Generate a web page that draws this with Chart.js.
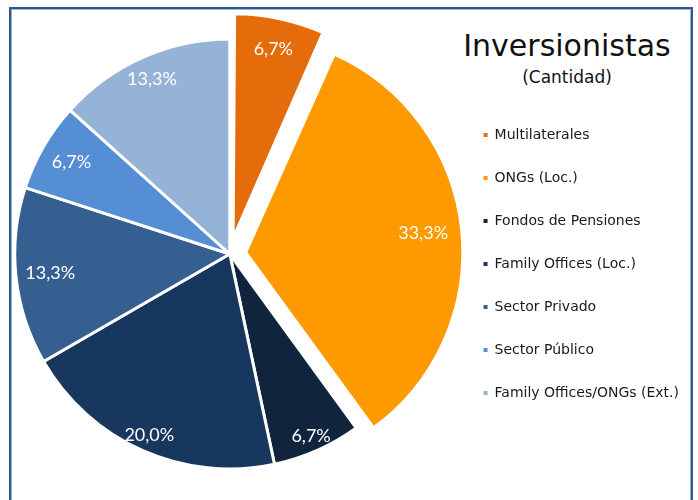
<!DOCTYPE html>
<html>
<head>
<meta charset="utf-8">
<script src="https://cdn.jsdelivr.net/npm/chart.js@4"></script>
<style>
  html, body { margin: 0; padding: 0; background: #fff; overflow: hidden; }
  body { width: 698px; height: 500px; position: relative; }
  #frame {
    position: absolute; left: 9px; top: 7px; width: 680px; height: 520px;
    border: 2px solid #2f5791; box-shadow: inset 0 0 0 1px #9fb4d4;
  }
  #title {
    position: absolute; left: 447px; width: 240px; top: 26px;
    text-align: center; color: #111; font-family: "DejaVu Sans", sans-serif;
  }
  #title .main { font-size: 30px; line-height: 40px; }
  #title .sub { font-size: 17px; line-height: 22px; }
  #pie { position: absolute; left: 5px; top: 8px; }
</style>
</head>
<body>
<div id="frame"></div>
<div id="title"><div class="main">Inversionistas</div><div class="sub">(Cantidad)</div></div>
<canvas id="pie" width="684" height="492"></canvas>
<script>
const categories = [
  "Multilaterales",
  "ONGs (Loc.)",
  "Fondos de Pensiones",
  "Family Offices (Loc.)",
  "Sector Privado",
  "Sector Público",
  "Family Offices/ONGs (Ext.)",
];
const counts = [1, 5, 1, 3, 2, 1, 2];
const exploded = [true, true, false, false, false, false, false];

const sliceColors = ["#e46c0a", "#ff9900", "#10243e", "#18375f", "#365f91", "#558ed5", "#95b3d7"];
// how far out each percent label sits (share of radius), like excel's best fit
const labelDepth = [0.9, 0.83, 0.93, 0.92, 0.84, 0.85, 0.89];

const total = counts.reduce((a, b) => a + b, 0);

const sliceLabels = {
  id: "sliceLabels",
  afterDatasetsDraw(chart) {
    const ctx = chart.ctx;
    const meta = chart.getDatasetMeta(0);
    ctx.save();
    ctx.fillStyle = "#fff";
    ctx.font = "18px Lato, sans-serif";
    ctx.textAlign = "center";
    ctx.textBaseline = "middle";
    meta.data.forEach((arc, i) => {
      const p = arc.getProps(["x", "y", "startAngle", "endAngle", "outerRadius"], true);
      const mid = (p.startAngle + p.endAngle) / 2;
      const off = (arc.options.offset || 0) / 4;
      const r = off + p.outerRadius * labelDepth[i];
      const pct = (counts[i] / total * 100).toFixed(1).replace(".", ",") + "%";
      ctx.fillText(pct, p.x + Math.cos(mid) * r, p.y + Math.sin(mid) * r);
    });
    ctx.restore();
  },
};

new Chart(document.getElementById("pie"), {
  type: "pie",
  data: {
    labels: categories,
    datasets: [
      {
        data: counts,
        backgroundColor: sliceColors,
        borderColor: "#fff",
        borderWidth: 3,
        offset: exploded.map((e) => (e ? 64 : 0)),
      },
    ],
  },
  options: {
    responsive: false,
    animation: false,
    radius: 215,
    plugins: {
      tooltip: { enabled: false },
      legend: {
        position: "right",
        align: "center",
        title: { display: true, text: "", padding: 0, font: { size: 12, lineHeight: "20px" } },
        labels: {
          boxWidth: 4,
          boxHeight: 4,
          padding: 29,
          color: "#1a1a1a",
          font: { family: "'DejaVu Sans', sans-serif", size: 14 },
          generateLabels(chart) {
            return Chart.overrides.pie.plugins.legend.labels
              .generateLabels(chart)
              .map((item) => ({ ...item, lineWidth: 0 }));
          },
        },
      },
    },
  },
  plugins: [sliceLabels],
});
</script>
</body>
</html>
